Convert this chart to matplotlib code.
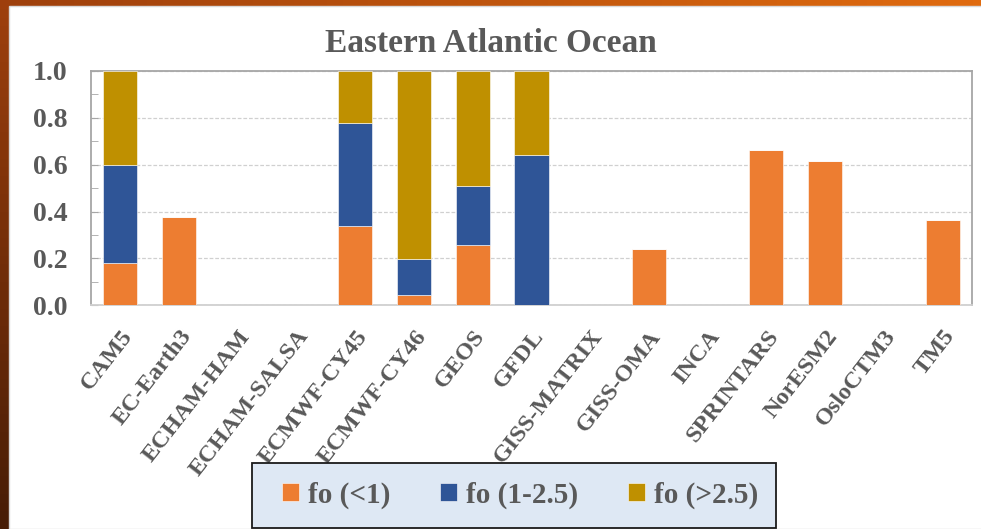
import numpy as np
import matplotlib.pyplot as plt
from matplotlib.patches import Rectangle
from matplotlib.ticker import MultipleLocator

models = ["CAM5", "EC-Earth3", "ECHAM-HAM", "ECHAM-SALSA", "ECMWF-CY45",
          "ECMWF-CY46", "GEOS", "GFDL", "GISS-MATRIX", "GISS-OMA", "INCA",
          "SPRINTARS", "NorESM2", "OsloCTM3", "TM5"]
fo_low = [0.182, 0.378, 0, 0, 0.338, 0.044, 0.257, 0, 0, 0.239, 0, 0.664, 0.616, 0, 0.363]
fo_mid = [0.418, 0, 0, 0, 0.441, 0.155, 0.253, 0.641, 0, 0, 0, 0, 0, 0, 0]
fo_high = [0.400, 0, 0, 0, 0.221, 0.801, 0.490, 0.359, 0, 0, 0, 0, 0, 0, 0]
series_names = ["fo (<1)", "fo (1-2.5)", "fo (>2.5)"]
colors = ["#ED7D31", "#2F5597", "#BF9000"]

txt = "#595959"
serif = "Liberation Serif"

fig = plt.figure(figsize=(9.81, 5.29), dpi=100)

# slide background behind the white chart panel
bg = fig.add_axes([0, 0, 1, 1], zorder=-5)
bg.set_axis_off()
h, w = 60, 120
yy, xx = np.mgrid[0:1:h * 1j, 0:1:w * 1j]
top_col = np.array([0.62, 0.25, 0.05]) * (1 - xx[..., None]) + np.array([0.88, 0.42, 0.06]) * xx[..., None]
shade = 1 - 0.55 * yy[..., None]
grad = np.clip(top_col * shade, 0, 1)
bg.imshow(grad, extent=[0, 1, 0, 1], aspect="auto", origin="upper")
bg.set_xlim(0, 1)
bg.set_ylim(0, 1)
bg.add_patch(Rectangle((9 / 981, 0), 1, 1 - 6 / 529, facecolor="white",
                       edgecolor="#D9D9D9", linewidth=1))

ax = fig.add_axes([91 / 981, 1 - 305.3 / 529, 881 / 981, 234.3 / 529])
x = np.arange(len(models))
bottom = np.zeros(len(models))
for vals, name, c in zip([fo_low, fo_mid, fo_high], series_names, colors):
    ax.bar(x, vals, width=0.58, bottom=bottom, color=c, label=name,
           edgecolor="white", linewidth=0.4, zorder=3)
    bottom += np.array(vals)

ax.set_xlim(-0.5, len(models) - 0.5)
ax.set_ylim(0, 1.0)
ax.yaxis.set_major_locator(MultipleLocator(0.2))
ax.yaxis.set_minor_locator(MultipleLocator(0.1))
ax.set_yticklabels([f"{v:.1f}" for v in ax.get_yticks()])
ax.grid(axis="y", color="#D0D0D0", linestyle=(0, (3, 1.5)), linewidth=0.9, zorder=0)
for s in ax.spines.values():
    s.set_color("#A6A6A6")
    s.set_linewidth(1.3)
ax.spines["bottom"].set_color("#D0D0D0")
ax.tick_params(axis="y", which="both", direction="in", color="#A6A6A6",
               labelcolor=txt, labelsize=20, pad=17)
ax.tick_params(axis="y", which="major", length=5)
ax.tick_params(axis="y", which="minor", length=5)
ax.tick_params(axis="x", length=0, pad=15)
ax.set_xticks(x)
ax.set_xticklabels(models, rotation=52, ha="right", rotation_mode="anchor",
                   fontsize=17.5, color=txt)
for lab in ax.get_xticklabels() + ax.get_yticklabels():
    lab.set_fontfamily(serif)
    lab.set_fontweight("bold")

fig.text(0.5, 1 - 43 / 529, "Eastern Atlantic Ocean", ha="center", va="center",
         fontsize=24, fontweight="bold", color=txt, family=serif)

# legend box
fig.patches.append(Rectangle((252 / 981, 1 / 529), 524 / 981, 65 / 529,
                             transform=fig.transFigure, facecolor="#DEE8F4",
                             edgecolor="#1A1A1A", linewidth=1.3, zorder=4))
handles, labels = ax.get_legend_handles_labels()
leg = fig.legend(handles, labels, loc="center", ncol=3,
                 bbox_to_anchor=(520 / 981, 1 - 495 / 529), frameon=False,
                 prop={"family": serif, "weight": "bold", "size": 21},
                 handlelength=0.6, handleheight=0.6, handletextpad=0.3,
                 columnspacing=1.7, labelcolor=txt)
leg.set_zorder(5)

fig.savefig("out.png", dpi=100)
